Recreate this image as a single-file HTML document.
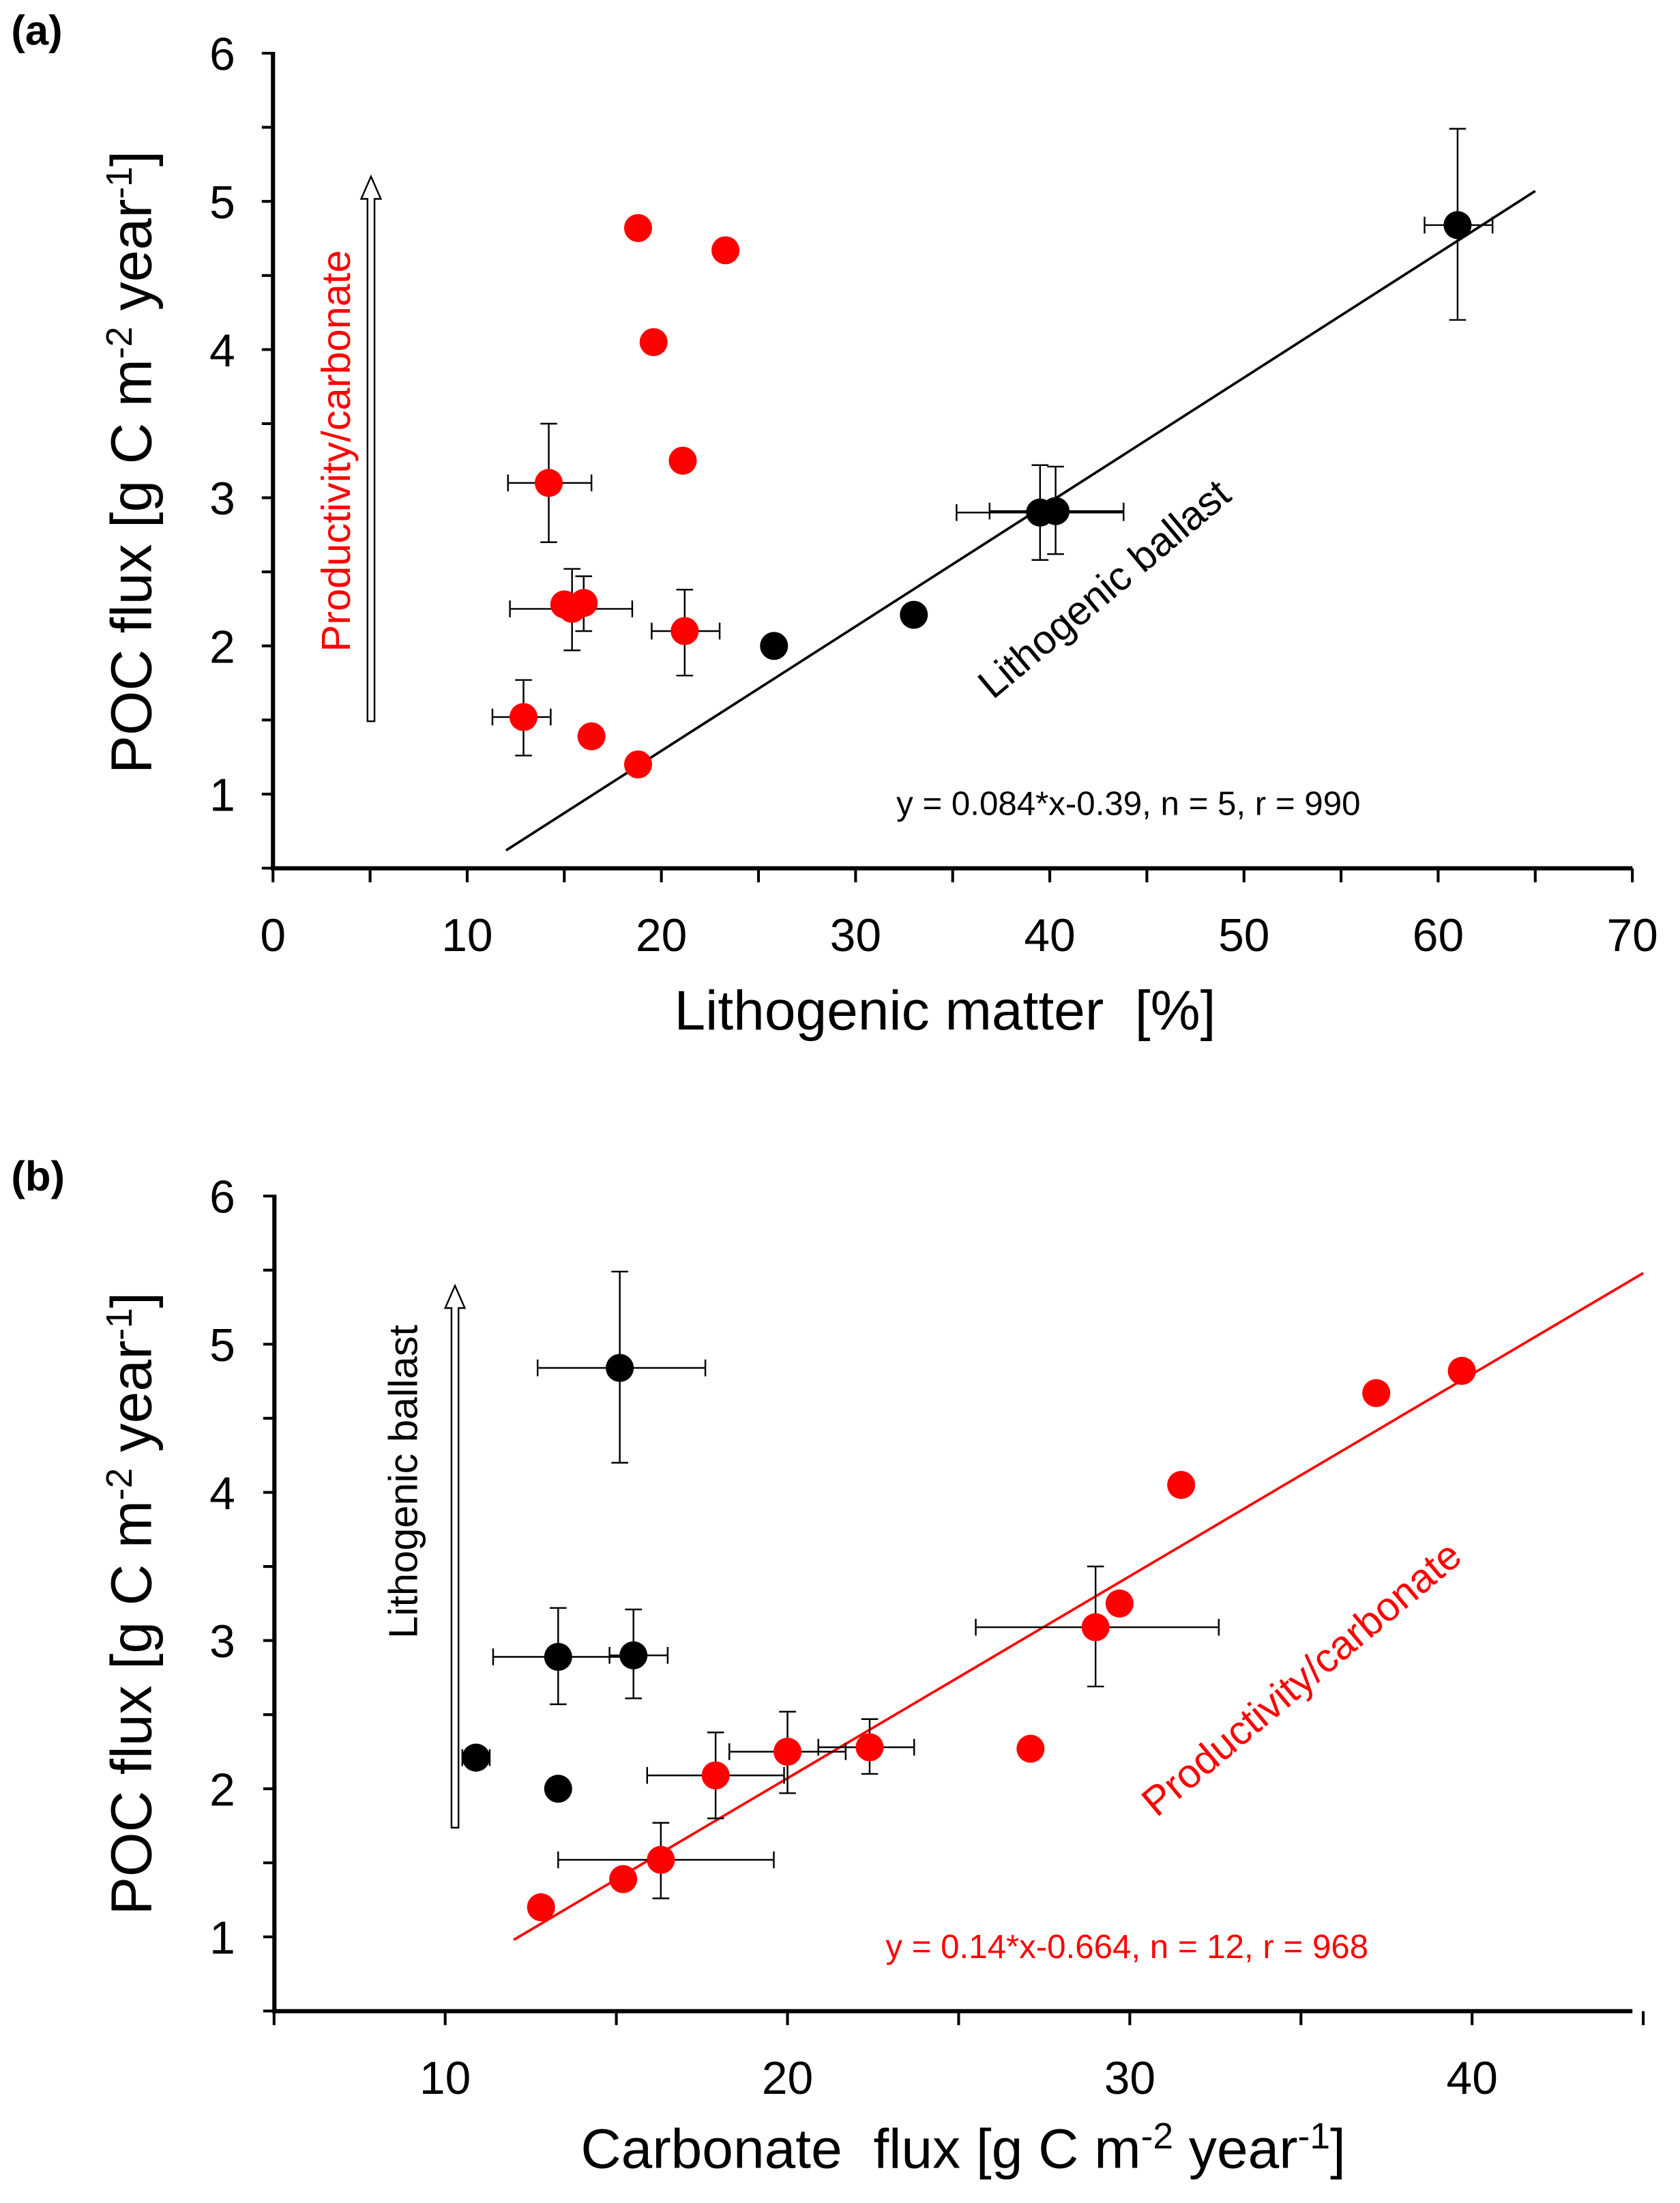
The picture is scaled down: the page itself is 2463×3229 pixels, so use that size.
<!DOCTYPE html>
<html><head><meta charset="utf-8"><style>html,body{margin:0;padding:0;background:#fff}svg{display:block}text{font-family:"Liberation Sans",sans-serif}</style></head>
<body>
<svg id="s" width="2463" height="3229" viewBox="0 0 1200 1573" preserveAspectRatio="none" xmlns="http://www.w3.org/2000/svg"></svg>
<script>
const S=document.getElementById('s');let h='';
function L(x1,y1,x2,y2,c,w){h+=`<line x1="${x1}" y1="${y1}" x2="${x2}" y2="${y2}" stroke="${c||'#000'}" stroke-width="${w||1.2}"/>`;}
function T(x,y,t,sz,o){o=o||{};h+=`<text x="${x}" y="${y}" font-size="${sz}" fill="${o.c||'#000'}" text-anchor="${o.a||'middle'}" ${o.b?'font-weight="bold"':''} ${o.i?'font-style="italic"':''} ${o.r!=null?`transform="rotate(${o.r} ${x} ${y})"`:''}>${t}</text>`;}
function panel(P){
 const X=v=>P.x0+(v-P.xs)*P.kx, Y=v=>P.y6+(6-v)*105.8;
 L(P.left,P.y6-1,P.left,P.bot+1.5,'#000',3);L(P.left-1.5,P.bot,1166,P.bot,'#000',3);
 for(let v=0.5;v<=6.01;v+=0.5){L(P.left-8,Y(v),P.left,Y(v),'#000',2);if(Number.isInteger(v))T(168,Y(v)+12,v,33,{a:'end'});}
 for(const v of P.xt){L(X(v),P.bot,X(v),P.bot+10,'#000',2);if(P.lab(v))T(X(v),P.bot+59,v,33);}
 L(X(P.ln[0]),Y(P.ln[1]),X(P.ln[2]),Y(P.ln[3]),P.lc,1.8);
 for(const d of P.d){const [x,y,c,ex,ey]=d;
  if(ex){L(X(ex[0]),Y(y),X(ex[1]),Y(y));L(X(ex[0]),Y(y)-6,X(ex[0]),Y(y)+6);L(X(ex[1]),Y(y)-6,X(ex[1]),Y(y)+6);}
  if(ey){L(X(x),Y(ey[0]),X(x),Y(ey[1]));L(X(x)-6,Y(ey[0]),X(x)+6,Y(ey[0]));L(X(x)-6,Y(ey[1]),X(x)+6,Y(ey[1]));}
 }
 for(const d of P.d){const [x,y,c]=d;h+=`<circle cx="${X(x)}" cy="${Y(y)}" r="10" fill="${c=='r'?'#f00':'#000'}"/>`;}
 const ax=P.ax;h+=`<path d="M${ax-2.5} ${P.a1} L${ax-2.5} ${P.a0+16} L${ax-7} ${P.a0+16} L${ax} ${P.a0} L${ax+7} ${P.a0+16} L${ax+2.5} ${P.a0+16} L${ax+2.5} ${P.a1} Z" fill="#fff" stroke="#000" stroke-width="1.2"/>`;
}
panel({x0:195,xs:0,kx:13.871,y6:38,bot:620,left:195,xt:[0,5,10,15,20,25,30,35,40,45,50,55,60,65,70],lab:v=>v%10==0,ln:[12,0.62,65,5.07],lc:'#000',ax:265,a0:126,a1:515,
d:[[18.8,4.82,'r'],[23.3,4.67,'r'],[19.6,4.05,'r'],[21.1,3.25,'r'],[14.2,3.1,'r',[12.1,16.4],[2.7,3.5]],[15.4,2.25,'r',[12.2,18.5],[1.97,2.52]],[15.0,2.28,'r'],[16,2.29,'r',null,[2.1,2.47]],[21.2,2.1,'r',[19.5,23],[1.8,2.38]],[12.9,1.52,'r',[11.3,14.3],[1.26,1.77]],[16.4,1.39,'r'],[18.8,1.2,'r'],
[25.8,2.0,'k'],[33,2.21,'k',null,[2.15,2.27]],[39.5,2.9,'k',[35.2,43.8],[2.58,3.22]],[40.3,2.91,'k',[36.9,43.8],[2.62,3.21]],[61,4.84,'k',[59.3,62.8],[4.2,5.49]]]});
panel({x0:318,xs:10,kx:24.45,y6:854,bot:1436,left:196,xt:[5,10,15,20,25,30,35,40,45],lab:v=>v%10==0,ln:[12,0.98,45,5.48],lc:'#f00',ax:325,a0:918,a1:1305,
d:[[15.1,4.84,'k',[12.7,17.6],[4.2,5.49]],[13.3,2.89,'k',[11.4,15.6],[2.57,3.22]],[15.5,2.9,'k',[14.8,16.5],[2.61,3.21]],[10.9,2.21,'k',[10.5,11.3]],[13.3,2.0,'k'],
[12.8,1.2,'r'],[15.2,1.39,'r'],[16.3,1.52,'r',[13.3,19.6],[1.26,1.77]],[17.9,2.09,'r',[15.9,19.9],[1.8,2.38]],[20,2.25,'r',[18.3,21.7],[1.97,2.52]],[22.4,2.28,'r',[20.9,23.7],[2.1,2.47]],[27.1,2.27,'r'],[29,3.09,'r',[25.5,32.6],[2.69,3.5]],[29.7,3.25,'r'],[31.5,4.05,'r'],[37.2,4.67,'r'],[39.7,4.82,'r']]});
T(8,32,'(a)',30,{a:'start',b:1});T(8,850,'(b)',30,{a:'start',b:1});
T(108,330,'POC flux [g C m<tspan dy="-14" font-size="26">-2</tspan><tspan dy="14"> year</tspan><tspan dy="-14" font-size="26">-1</tspan><tspan dy="14">]</tspan>',41,{r:-90});
T(108,1145,'POC flux [g C m<tspan dy="-14" font-size="26">-2</tspan><tspan dy="14"> year</tspan><tspan dy="-14" font-size="26">-1</tspan><tspan dy="14">]</tspan>',41,{r:-90});
T(675,735,'Lithogenic matter&#160; [%]',40);
T(688,1548,'Carbonate&#160; flux [g C m<tspan dy="-14" font-size="26">-2</tspan><tspan dy="14"> year</tspan><tspan dy="-14" font-size="26">-1</tspan><tspan dy="14">]</tspan>',40);
T(250,322,'Productivity/carbonate',29,{c:'#f00',r:-90});
T(298,1058,'Lithogenic ballast',29,{r:-90});
T(795,428,'Lithogenic ballast',29,{r:-40});
T(936,1206,'Productivity/carbonate',29,{c:'#f00',r:-40});
T(806,582,'y = 0.084*x-0.39, n = 5, r = 990',24);
T(805,1398,'y = 0.14*x-0.664, n = 12, r = 968',24,{c:'#f00'});
S.innerHTML=h;
</script>
</body></html>
